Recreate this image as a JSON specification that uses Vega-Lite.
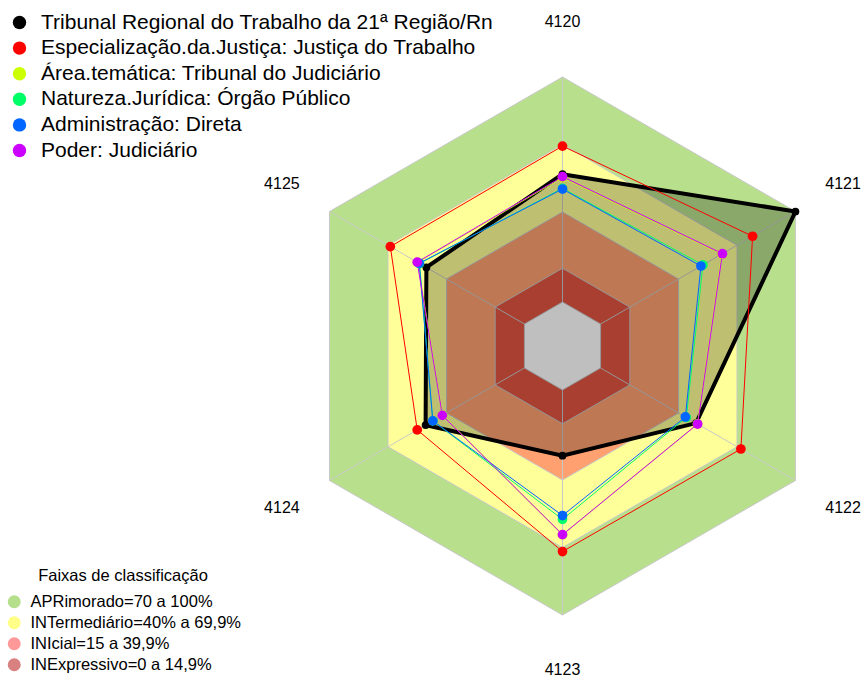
{
  "$schema": "https://vega.github.io/schema/vega-lite/v6.json",
  "width": 861,
  "height": 678,
  "padding": 0,
  "autosize": {"type": "fit", "contains": "padding"},
  "background": "#FFFFFF",
  "config": {"view": {"stroke": null}, "font": "Liberation Sans"},
  "datasets": {
    "faixas": [
      {"faixa": "APRimorado=70 a 100%", "nivel": 1.0, "eixos": ["4120", "4121", "4122", "4123", "4124", "4125"]},
      {"faixa": "INTermediário=40% a 69,9%", "nivel": 0.7, "eixos": ["4120", "4121", "4122", "4123", "4124", "4125"]},
      {"faixa": "INIcial=15 a 39,9%", "nivel": 0.4, "eixos": ["4120", "4121", "4122", "4123", "4124", "4125"]},
      {"faixa": "INExpressivo=0 a 14,9%", "nivel": 0.15, "eixos": ["4120", "4121", "4122", "4123", "4124", "4125"]},
      {"faixa": "centro", "nivel": 0, "eixos": ["4120", "4121", "4122", "4123", "4124", "4125"]}
    ],
    "eixos": [
      {"eixo": "4120"}, {"eixo": "4121"}, {"eixo": "4122"},
      {"eixo": "4123"}, {"eixo": "4124"}, {"eixo": "4125"}
    ],
    "series": [
      {"serie": "Tribunal Regional do Trabalho da 21ª Região/Rn", "eixo": "4120", "valor": 0.568},
      {"serie": "Tribunal Regional do Trabalho da 21ª Região/Rn", "eixo": "4121", "valor": 1.0},
      {"serie": "Tribunal Regional do Trabalho da 21ª Região/Rn", "eixo": "4122", "valor": 0.49},
      {"serie": "Tribunal Regional do Trabalho da 21ª Região/Rn", "eixo": "4123", "valor": 0.292},
      {"serie": "Tribunal Regional do Trabalho da 21ª Região/Rn", "eixo": "4124", "valor": 0.507},
      {"serie": "Tribunal Regional do Trabalho da 21ª Região/Rn", "eixo": "4125", "valor": 0.503},
      {"serie": "Especialização.da.Justiça: Justiça do Trabalho", "eixo": "4120", "valor": 0.693},
      {"serie": "Especialização.da.Justiça: Justiça do Trabalho", "eixo": "4121", "valor": 0.78},
      {"serie": "Especialização.da.Justiça: Justiça do Trabalho", "eixo": "4122", "valor": 0.72},
      {"serie": "Especialização.da.Justiça: Justiça do Trabalho", "eixo": "4123", "valor": 0.718},
      {"serie": "Especialização.da.Justiça: Justiça do Trabalho", "eixo": "4124", "valor": 0.55},
      {"serie": "Especialização.da.Justiça: Justiça do Trabalho", "eixo": "4125", "valor": 0.688},
      {"serie": "Área.temática: Tribunal do Judiciário", "eixo": "4120", "valor": 0.553},
      {"serie": "Área.temática: Tribunal do Judiciário", "eixo": "4121", "valor": 0.622},
      {"serie": "Área.temática: Tribunal do Judiciário", "eixo": "4122", "valor": 0.497},
      {"serie": "Área.temática: Tribunal do Judiciário", "eixo": "4123", "valor": 0.643},
      {"serie": "Área.temática: Tribunal do Judiciário", "eixo": "4124", "valor": 0.42},
      {"serie": "Área.temática: Tribunal do Judiciário", "eixo": "4125", "valor": 0.548},
      {"serie": "Natureza.Jurídica: Órgão Público", "eixo": "4120", "valor": 0.505},
      {"serie": "Natureza.Jurídica: Órgão Público", "eixo": "4121", "valor": 0.525},
      {"serie": "Natureza.Jurídica: Órgão Público", "eixo": "4122", "valor": 0.44},
      {"serie": "Natureza.Jurídica: Órgão Público", "eixo": "4123", "valor": 0.575},
      {"serie": "Natureza.Jurídica: Órgão Público", "eixo": "4124", "valor": 0.47},
      {"serie": "Natureza.Jurídica: Órgão Público", "eixo": "4125", "valor": 0.538},
      {"serie": "Administração: Direta", "eixo": "4120", "valor": 0.502},
      {"serie": "Administração: Direta", "eixo": "4121", "valor": 0.515},
      {"serie": "Administração: Direta", "eixo": "4122", "valor": 0.435},
      {"serie": "Administração: Direta", "eixo": "4123", "valor": 0.558},
      {"serie": "Administração: Direta", "eixo": "4124", "valor": 0.47},
      {"serie": "Administração: Direta", "eixo": "4125", "valor": 0.54},
      {"serie": "Poder: Judiciário", "eixo": "4120", "valor": 0.557},
      {"serie": "Poder: Judiciário", "eixo": "4121", "valor": 0.625},
      {"serie": "Poder: Judiciário", "eixo": "4122", "valor": 0.498},
      {"serie": "Poder: Judiciário", "eixo": "4123", "valor": 0.643},
      {"serie": "Poder: Judiciário", "eixo": "4124", "valor": 0.421},
      {"serie": "Poder: Judiciário", "eixo": "4125", "valor": 0.55}
    ]
  },
  "encoding": {
    "x": {"field": "x", "type": "quantitative", "scale": {"domain": [-562.5, 298.5], "nice": false, "zero": false}, "axis": null},
    "y": {"field": "y", "type": "quantitative", "scale": {"domain": [-332, 346], "nice": false, "zero": false}, "axis": null}
  },
  "layer": [
    {
      "data": {"name": "faixas"},
      "transform": [
        {"flatten": ["eixos"], "as": ["eixo"]},
        {"calculate": "indexof(['4120','4121','4122','4123','4124','4125'], datum.eixo)", "as": "k"},
        {"calculate": "44 + 225 * datum.nivel", "as": "r"},
        {"calculate": "datum.r * sin(datum.k * PI / 3)", "as": "x"},
        {"calculate": "datum.r * cos(datum.k * PI / 3)", "as": "y"}
      ],
      "mark": {"type": "line", "interpolate": "linear-closed", "stroke": "#C8C8C8", "strokeWidth": 1},
      "encoding": {
        "fill": {
          "field": "faixa", "type": "nominal",
          "scale": {
            "domain": ["APRimorado=70 a 100%", "INTermediário=40% a 69,9%", "INIcial=15 a 39,9%", "INExpressivo=0 a 14,9%", "centro"],
            "range": ["#B8E08C", "#FFFF99", "#FFA070", "#E05540", "#FFFFFF"]
          },
          "legend": null
        },
        "detail": {"field": "faixa", "type": "nominal"},
        "order": {"field": "k", "type": "quantitative"}
      }
    },
    {
      "data": {"name": "eixos"},
      "transform": [
        {"calculate": "indexof(['4120','4121','4122','4123','4124','4125'], datum.eixo)", "as": "k"},
        {"calculate": "44 * sin(datum.k * PI / 3)", "as": "x"},
        {"calculate": "44 * cos(datum.k * PI / 3)", "as": "y"},
        {"calculate": "269 * sin(datum.k * PI / 3)", "as": "x2"},
        {"calculate": "269 * cos(datum.k * PI / 3)", "as": "y2"}
      ],
      "mark": {"type": "rule", "stroke": "#C8C8C8", "strokeWidth": 1},
      "encoding": {
        "x2": {"field": "x2"},
        "y2": {"field": "y2"}
      }
    },
    {
      "data": {"name": "faixas"},
      "transform": [
        {"filter": "datum.faixa != 'centro'"},
        {"calculate": "0", "as": "x"},
        {"calculate": "0", "as": "y"}
      ],
      "mark": {"type": "point", "filled": true, "opacity": 0},
      "encoding": {
        "fill": {
          "field": "faixa", "type": "nominal",
          "scale": {
            "domain": ["APRimorado=70 a 100%", "INTermediário=40% a 69,9%", "INIcial=15 a 39,9%", "INExpressivo=0 a 14,9%"],
            "range": ["#B5DF8A", "#FFFF88", "#FF9999", "#D98080"]
          },
          "legend": {
            "title": "Faixas de classificação",
            "orient": "none", "legendX": 6, "legendY": 568,
            "titleFont": "Liberation Sans", "titleFontSize": 16.5, "titleFontWeight": "normal", "titleColor": "#000000",
            "titleAnchor": "middle", "titlePadding": 9,
            "symbolType": "circle", "symbolSize": 170, "symbolStrokeWidth": 0, "symbolOpacity": 1,
            "labelFont": "Liberation Sans", "labelFontSize": 16.5, "labelColor": "#000000", "labelOffset": 8,
            "labelLimit": 400, "rowPadding": 4
          }
        }
      }
    },
    {
      "data": {"name": "series"},
      "transform": [
        {"filter": {"field": "serie", "equal": "Tribunal Regional do Trabalho da 21ª Região/Rn"}},
        {"calculate": "indexof(['4120','4121','4122','4123','4124','4125'], datum.eixo)", "as": "k"},
        {"calculate": "44 + 225 * datum.valor", "as": "r"},
        {"calculate": "datum.r * sin(datum.k * PI / 3)", "as": "x"},
        {"calculate": "datum.r * cos(datum.k * PI / 3)", "as": "y"}
      ],
      "mark": {"type": "line", "interpolate": "linear-closed", "stroke": "#000000", "strokeWidth": 4, "fill": "#000000", "fillOpacity": 0.25},
      "encoding": {
        "order": {"field": "k", "type": "quantitative"}
      }
    },
    {
      "data": {"name": "series"},
      "transform": [
        {"filter": "datum.serie != 'Tribunal Regional do Trabalho da 21ª Região/Rn'"},
        {"calculate": "indexof(['4120','4121','4122','4123','4124','4125'], datum.eixo)", "as": "k"},
        {"calculate": "44 + 225 * datum.valor", "as": "r"},
        {"calculate": "datum.r * sin(datum.k * PI / 3)", "as": "x"},
        {"calculate": "datum.r * cos(datum.k * PI / 3)", "as": "y"}
      ],
      "mark": {"type": "line", "interpolate": "linear-closed", "strokeWidth": 1},
      "encoding": {
        "stroke": {
          "field": "serie", "type": "nominal",
          "scale": {
            "domain": ["Especialização.da.Justiça: Justiça do Trabalho", "Área.temática: Tribunal do Judiciário", "Natureza.Jurídica: Órgão Público", "Administração: Direta", "Poder: Judiciário"],
            "range": ["#FF0000", "#CCFF00", "#00FF66", "#0066FF", "#CC00FF"]
          },
          "legend": null
        },
        "detail": {"field": "serie", "type": "nominal"},
        "order": {"field": "k", "type": "quantitative"}
      }
    },
    {
      "data": {"name": "series"},
      "transform": [
        {"filter": {"field": "serie", "equal": "Tribunal Regional do Trabalho da 21ª Região/Rn"}},
        {"calculate": "indexof(['4120','4121','4122','4123','4124','4125'], datum.eixo)", "as": "k"},
        {"calculate": "44 + 225 * datum.valor", "as": "r"},
        {"calculate": "datum.r * sin(datum.k * PI / 3)", "as": "x"},
        {"calculate": "datum.r * cos(datum.k * PI / 3)", "as": "y"}
      ],
      "mark": {"type": "point", "filled": true, "size": 60, "opacity": 1},
      "encoding": {
        "color": {
          "field": "serie", "type": "nominal",
          "scale": {
            "domain": ["Tribunal Regional do Trabalho da 21ª Região/Rn", "Especialização.da.Justiça: Justiça do Trabalho", "Área.temática: Tribunal do Judiciário", "Natureza.Jurídica: Órgão Público", "Administração: Direta", "Poder: Judiciário"],
            "range": ["#000000", "#FF0000", "#CCFF00", "#00FF66", "#0066FF", "#CC00FF"]
          },
          "legend": {
            "title": null, "orient": "none", "legendX": 9, "legendY": 12,
            "symbolType": "circle", "symbolSize": 180, "symbolStrokeWidth": 0, "symbolOpacity": 1,
            "labelFont": "Liberation Sans", "labelFontSize": 21, "labelColor": "#000000",
            "labelLimit": 700, "labelOffset": 11, "rowPadding": 3.6
          }
        }
      }
    },
    {
      "data": {"name": "series"},
      "transform": [
        {"filter": "datum.serie != 'Tribunal Regional do Trabalho da 21ª Região/Rn'"},
        {"calculate": "indexof(['4120','4121','4122','4123','4124','4125'], datum.eixo)", "as": "k"},
        {"calculate": "44 + 225 * datum.valor", "as": "r"},
        {"calculate": "datum.r * sin(datum.k * PI / 3)", "as": "x"},
        {"calculate": "datum.r * cos(datum.k * PI / 3)", "as": "y"}
      ],
      "mark": {"type": "point", "filled": true, "size": 95, "opacity": 1},
      "encoding": {
        "color": {
          "field": "serie", "type": "nominal",
          "scale": {
            "domain": ["Tribunal Regional do Trabalho da 21ª Região/Rn", "Especialização.da.Justiça: Justiça do Trabalho", "Área.temática: Tribunal do Judiciário", "Natureza.Jurídica: Órgão Público", "Administração: Direta", "Poder: Judiciário"],
            "range": ["#000000", "#FF0000", "#CCFF00", "#00FF66", "#0066FF", "#CC00FF"]
          },
          "legend": {
            "title": null, "orient": "none", "legendX": 9, "legendY": 12,
            "symbolType": "circle", "symbolSize": 180, "symbolStrokeWidth": 0, "symbolOpacity": 1,
            "labelFont": "Liberation Sans", "labelFontSize": 21, "labelColor": "#000000",
            "labelLimit": 700, "labelOffset": 11, "rowPadding": 3.6
          }
        }
      }
    },
    {
      "data": {"name": "eixos"},
      "transform": [
        {"calculate": "indexof(['4120','4121','4122','4123','4124','4125'], datum.eixo)", "as": "k"},
        {"calculate": "324 * sin(datum.k * PI / 3)", "as": "x"},
        {"calculate": "324 * cos(datum.k * PI / 3)", "as": "y"}
      ],
      "mark": {"type": "text", "fontSize": 16, "font": "Liberation Sans", "color": "#000000", "align": "center", "baseline": "middle"},
      "encoding": {
        "text": {"field": "eixo", "type": "nominal"}
      }
    }
  ],
  "resolve": {"scale": {"fill": "independent"}}
}
